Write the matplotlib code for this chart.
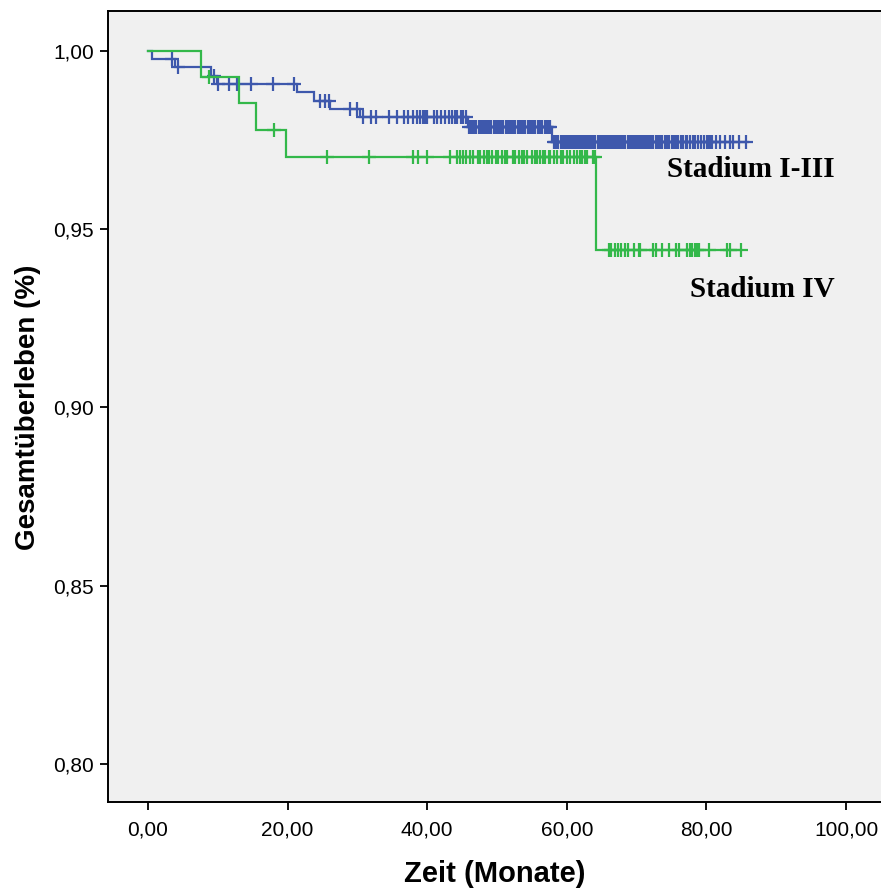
import matplotlib
matplotlib.use("Agg")
import matplotlib.pyplot as plt
from matplotlib import font_manager

# ---------------- data ----------------
# Stadium I-III: step times (months) and survival level after each step
blue_times = [0.0, 0.6, 3.9, 9.0, 9.9, 21.4, 23.8, 26.0, 30.4, 45.8, 57.9]
blue_surv = [1.0, 0.99767, 0.99542, 0.99306, 0.99081, 0.98840, 0.98596,
             0.98371, 0.98138, 0.97874, 0.97452]
blue_end = 86.0
blue_censor = [3.5, 4.35, 9.5, 10.0, 11.6, 12.8, 14.8, 17.9, 20.9,
               24.7, 25.3, 25.9, 29.0, 29.9,
               30.8, 31.9, 32.7, 34.5, 35.7, 36.7, 37.3, 38.0, 38.5, 39.0,
               39.4, 39.7, 40.0, 40.9, 41.4, 41.9, 42.6, 43.1, 43.5, 44.0,
               44.3, 44.8, 45.1, 45.6,
               46.0, 46.3, 46.5, 46.8, 47.0, 47.4, 47.6, 47.9, 48.2, 48.4,
               48.7, 49.0, 49.2, 49.5, 49.9, 50.1, 50.4, 50.6, 50.9, 51.3,
               51.5, 51.8, 52.1, 52.3, 52.6, 53.0, 53.2, 53.5, 53.7, 54.0,
               54.4, 54.6, 54.9, 55.1, 55.4, 55.8, 56.0, 56.3, 56.5, 56.8,
               57.1, 57.4, 57.6,
               58.1, 58.3, 58.6, 58.8, 59.1, 59.4, 59.6, 59.9, 60.2, 60.4,
               60.7, 60.9, 61.2, 61.5, 61.7, 62.0, 62.3, 62.5, 62.8, 63.1,
               63.3, 63.6, 63.9, 64.1, 64.4, 64.7, 64.9, 65.2, 65.5, 65.7,
               66.0, 66.3, 66.5, 66.8, 67.1, 67.3, 67.6, 67.9, 68.2, 68.4,
               68.7, 69.0, 69.2, 69.5, 69.8, 70.1, 70.3, 70.6, 70.9, 71.2,
               71.5, 71.8, 72.1, 72.4, 72.8, 73.1, 73.4, 73.7, 74.1, 74.4,
               74.6, 75.0, 75.3, 75.6, 75.9, 76.3, 76.6, 77.0, 77.2, 77.7,
               78.0, 78.4, 78.8, 79.2, 79.6, 80.1, 80.3, 80.6, 80.8, 81.3,
               82.0, 82.7, 83.3, 83.8, 84.6, 85.6]

# Stadium IV
green_times = [0.0, 7.6, 13.0, 15.4, 19.8, 64.2]
green_surv = [1.0, 0.99269, 0.98529, 0.97779, 0.97030, 0.94408]
green_end = 84.9
green_censor = [8.8, 18.1, 25.7, 31.6, 38.0, 38.7, 39.9, 43.2,
                44.2, 44.7, 45.1, 45.6, 46.1, 46.6, 47.2, 47.6, 48.1, 48.5,
                48.8, 49.3, 49.8, 50.2, 50.7, 51.1, 51.4, 52.3, 52.6, 53.1,
                53.6, 53.9, 54.3, 55.0, 55.4, 55.7, 56.2, 56.6, 56.9, 57.4,
                57.6, 58.1, 58.6, 59.1, 59.5, 60.0, 60.5, 61.0, 61.5, 61.9,
                62.2, 62.6, 62.9, 63.8, 64.0,
                66.0, 66.3, 66.9, 67.3, 67.7, 68.4, 68.7, 69.6, 70.3, 70.5,
                72.4, 72.8, 73.6, 74.6, 75.6, 76.0, 77.2, 77.6, 77.9, 78.3,
                78.7, 78.9, 80.3, 83.0, 83.4, 84.9]

x_ticks = [0, 20, 40, 60, 80, 100]
x_ticklabels = ["0,00", "20,00", "40,00", "60,00", "80,00", "100,00"]
y_ticks = [0.80, 0.85, 0.90, 0.95, 1.00]
y_ticklabels = ["0,80", "0,85", "0,90", "0,95", "1,00"]
group_labels = ["Stadium I-III", "Stadium IV"]

BLUE = "#3E58AC"
GREEN = "#33B84A"

# ---------------- fonts ----------------
avail = {f.name for f in font_manager.fontManager.ttflist}
narrow = "Liberation Sans Narrow" if "Liberation Sans Narrow" in avail else "Liberation Sans"


def level_at(times, surv, t):
    val = surv[0]
    for tt, s in zip(times, surv):
        if tt <= t:
            val = s
    return val


fig = plt.figure(figsize=(8.81, 8.90), dpi=100)
ax = fig.add_axes([108 / 881, 88 / 890, 773 / 881, 791 / 890])
ax.set_facecolor("#F0F0F0")

for times, surv, end, cens, col in [
    (blue_times, blue_surv, blue_end, blue_censor, BLUE),
    (green_times, green_surv, green_end, green_censor, GREEN),
]:
    xs = list(times) + [end]
    ys = list(surv) + [surv[-1]]
    ax.step(xs, ys, where="post", color=col, lw=1.6, solid_joinstyle="miter")
    cy = [level_at(times, surv, c) for c in cens]
    ax.plot(cens, cy, linestyle="none", marker="+", markersize=10.5,
            markeredgewidth=1.6, color=col)

ax.set_xlim(-5.73, 105.0)
ax.set_ylim(0.78934, 1.01122)
ax.set_xticks(x_ticks)
ax.set_xticklabels(x_ticklabels, fontfamily=narrow, fontsize=15)
ax.set_yticks(y_ticks)
ax.set_yticklabels(y_ticklabels, fontfamily="Liberation Sans", fontsize=15)
ax.tick_params(axis="both", direction="out", length=6, width=1.3, color="black", pad=4)
ax.tick_params(axis="x", pad=7)
for side in ["left", "bottom", "top"]:
    ax.spines[side].set_linewidth(1.4)
    ax.spines[side].set_color("black")
ax.spines["right"].set_visible(False)

ax.text(98.4, 0.96662, group_labels[0], ha="right", va="center",
        fontfamily="Liberation Serif", fontweight="bold", fontsize=21)
ax.text(98.4, 0.9330, group_labels[1], ha="right", va="center",
        fontfamily="Liberation Serif", fontweight="bold", fontsize=21)

fig.text(495 / 881, 1 - 874 / 890, "Zeit (Monate)", ha="center", va="center",
         fontfamily=narrow, fontweight="bold", fontsize=21)
fig.text(28 / 881, 1 - 407 / 890, "Gesamtüberleben (%)", ha="center", va="center",
         rotation=90, fontfamily="Liberation Sans", fontweight="bold", fontsize=20)

fig.savefig("out.png", dpi=100)
